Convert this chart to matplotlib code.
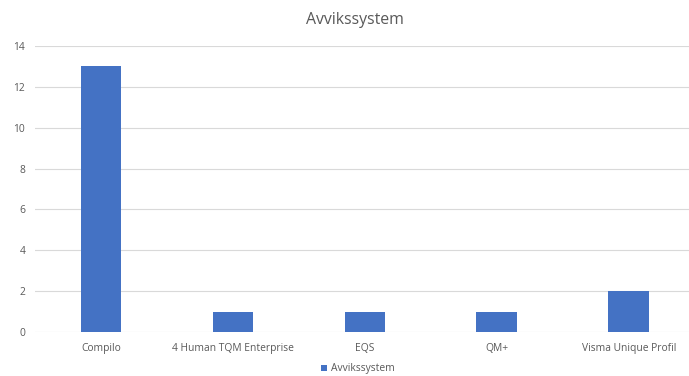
import matplotlib.pyplot as plt

categories = ["Compilo", "4 Human TQM Enterprise", "EQS", "QM+", "Visma Unique Profil"]
values = [13, 1, 1, 1, 2]
yticks = [0, 2, 4, 6, 8, 10, 12, 14]

plt.rcParams['font.family'] = ['Open Sans', 'DejaVu Sans']

fig = plt.figure(figsize=(6.89, 3.76), dpi=100)
ax = fig.add_axes([35 / 689, 1 - 332 / 376, 1 - 35 / 689, (332 - 46) / 376])

x = range(len(categories))
ax.bar(x, values, width=0.31, color="#4472C4", label="Avvikssystem", zorder=3)

ax.set_xlim(-0.5, 4.455)
ax.set_ylim(0, 14)
ax.set_yticks(yticks)
ax.set_xticks(list(x))
ax.set_xticklabels(categories)
ax.grid(axis="y", color="#D9D9D9", linewidth=0.8, zorder=0)
for s in ax.spines.values():
    s.set_visible(False)
ax.tick_params(length=0, colors="#595959", labelsize=7.4)
ax.tick_params(axis="x", pad=8)
ax.tick_params(axis="y", pad=7)

fig.text(355 / 689, 1 - 20 / 376, "Avvikssystem", ha="center", va="center", fontsize=11.4, color="#595959")
fig.legend(loc="center", bbox_to_anchor=(358 / 689, 1 - 369 / 376), frameon=False, fontsize=7.4,
           handlelength=0.6, handleheight=0.6, handletextpad=0.4, labelcolor="#595959")

fig.savefig("out.png", dpi=100)
